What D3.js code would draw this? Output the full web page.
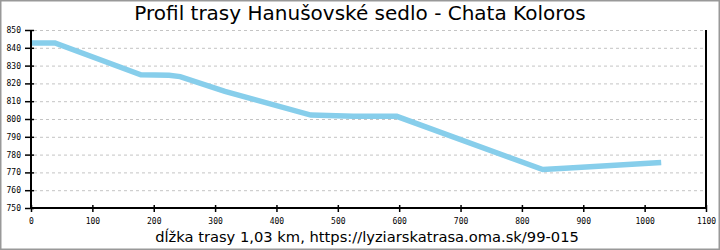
<!DOCTYPE html>
<html>
<head>
<meta charset="utf-8">
<script src="https://cdn.jsdelivr.net/npm/d3@7"></script>
<style>
  html, body { margin: 0; padding: 0; background: #fff; }
  svg { display: block; }
  .tick-label { font-family: "DejaVu Sans Mono", monospace; font-size: 8px; fill: #000; }
</style>
</head>
<body>
<svg id="chart" width="720" height="250"></svg>
<script>
  // route profile: distance along track (m) and elevation (m)
  const distances = [0, 39, 179, 225, 243, 316, 456, 525, 596, 834, 870, 1027];
  const elevations = [842.7, 842.7, 824.8, 824.6, 823.8, 815.5, 802.2, 801.5, 801.5, 771.6, 772.3, 775.6];
  const xTicks = [0, 100, 200, 300, 400, 500, 600, 700, 800, 900, 1000, 1100];
  const yTicks = [750, 760, 770, 780, 790, 800, 810, 820, 830, 840, 850];
  const title = "Profil trasy Hanušovské sedlo - Chata Koloros";
  const footer = "dĺžka trasy 1,03 km, https://lyziarskatrasa.oma.sk/99-015";

  const width = 720;
  const height = 250;
  const plotLeft = 31, plotRight = 706, plotTop = 30, plotBottom = 208;

  const svg = d3.select("#chart");

  const x = d3.scaleLinear().domain([0, 1100]).range([plotLeft, plotRight]);
  const y = d3.scaleLinear().domain([750, 850]).range([plotBottom, plotTop]);

  // outer frame
  svg.append("rect")
    .attr("x", 0.5).attr("y", 0.5)
    .attr("width", width - 1).attr("height", height - 1)
    .attr("fill", "none").attr("stroke", "#999").attr("stroke-width", 2);

  // dashed horizontal grid
  svg.append("g")
    .selectAll("line")
    .data(yTicks.filter((d) => d > 750))
    .join("line")
    .attr("x1", plotLeft + 3).attr("x2", plotRight)
    .attr("y1", (d) => y(d) + 0.5).attr("y2", (d) => y(d) + 0.5)
    .attr("stroke", "#c4c4c4").attr("stroke-width", 1)
    .attr("stroke-dasharray", "3,3");

  // profile line
  const line = d3.line()
    .x((d, i) => x(distances[i]))
    .y((d) => y(d));

  svg.append("path")
    .datum(elevations)
    .attr("d", line)
    .attr("fill", "none")
    .attr("stroke", "#87ceeb")
    .attr("stroke-width", 5.5);

  // y axis
  const yAxis = svg.append("g").attr("transform", `translate(${plotLeft},0)`)
    .call(d3.axisLeft(y).tickValues(yTicks).tickSize(6).tickPadding(5).tickFormat(d3.format("d")));
  yAxis.attr("font-family", null).attr("font-size", null);
  yAxis.select(".domain").attr("stroke", "#000").attr("stroke-width", 2).attr("d", `M0,${plotTop}V${plotBottom}`);
  yAxis.selectAll(".tick line").attr("x1", 3).attr("x2", -6).attr("stroke", "#000").attr("stroke-width", 1.5);
  yAxis.selectAll(".tick text").attr("class", "tick-label").attr("x", -10).attr("dy", "0.32em");

  // x axis
  const xAxis = svg.append("g").attr("transform", `translate(0,${plotBottom})`)
    .call(d3.axisBottom(x).tickValues(xTicks).tickSize(4).tickPadding(6).tickFormat(d3.format("d")));
  xAxis.attr("font-family", null).attr("font-size", null);
  xAxis.select(".domain").attr("stroke", "#000").attr("stroke-width", 2).attr("d", `M${plotLeft},0H${plotRight}`);
  xAxis.selectAll(".tick line").attr("y1", -3).attr("y2", 4).attr("stroke", "#000").attr("stroke-width", 1.5);
  xAxis.selectAll(".tick text").attr("class", "tick-label").attr("y", 10).attr("dy", "0.71em");

  // right edge line
  svg.append("line")
    .attr("x1", plotRight).attr("x2", plotRight)
    .attr("y1", plotTop).attr("y2", plotBottom)
    .attr("stroke", "#000").attr("stroke-width", 2);

  svg.append("text")
    .attr("x", width / 2).attr("y", 20)
    .attr("text-anchor", "middle")
    .attr("font-family", "DejaVu Sans, sans-serif")
    .attr("font-size", 20)
    .text(title);

  svg.append("text")
    .attr("x", 367).attr("y", 242)
    .attr("text-anchor", "middle")
    .attr("font-family", "DejaVu Sans, sans-serif")
    .attr("font-size", 14.7)
    .text(footer);
</script>
</body>
</html>
